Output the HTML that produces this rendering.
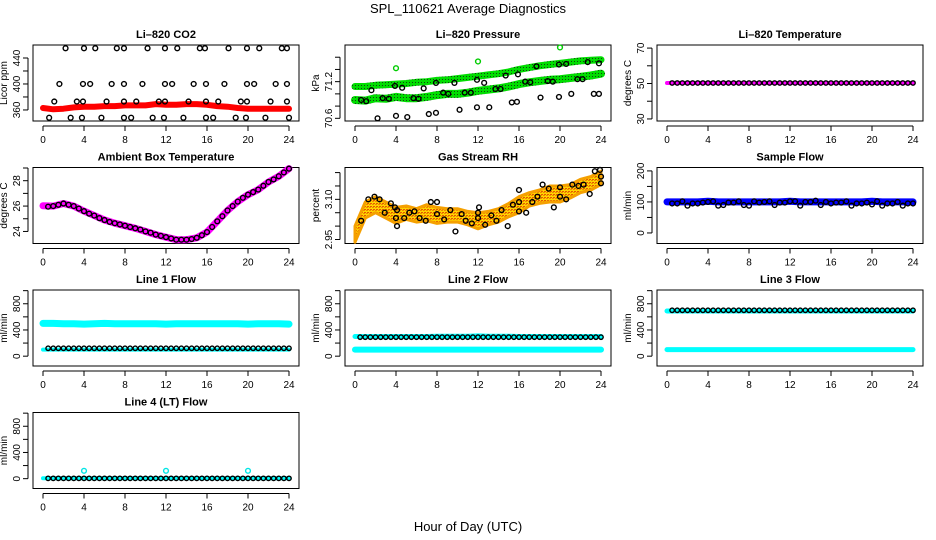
<!DOCTYPE html>
<html><head><meta charset="utf-8">
<style>
html,body{margin:0;padding:0;background:#fff;}
svg{display:block;font-family:"Liberation Sans",Arial,sans-serif;}
</style></head>
<body>
<svg id="chart" width="936" height="540" viewBox="0 0 936 540" xmlns="http://www.w3.org/2000/svg">
<defs>
<pattern id="greenPat" width="3" height="3" patternUnits="userSpaceOnUse"><rect width="3" height="3" fill="#00dd00"/><rect x="1" y="1" width="1" height="1" fill="#114411"/></pattern>
<pattern id="rhPat" width="3" height="3" patternUnits="userSpaceOnUse"><rect width="3" height="3" fill="#ffd400"/><rect x="0" y="0" width="2" height="1" fill="#f08a00"/><rect x="1" y="2" width="2" height="1" fill="#e55a00"/></pattern>
</defs>
<text x="468" y="13" text-anchor="middle" font-size="13">SPL_110621  Average Diagnostics</text>
<text x="468" y="531" text-anchor="middle" font-size="13">Hour of Day (UTC)</text>
</svg>
<script>
// ---- shared data ----
const xTicks = [0,4,8,12,16,20,24];
const hourly = [0,1,2,3,4,5,6,7,8,9,10,11,12,13,14,15,16,17,18,19,20,21,22,23,24];
const halfHours = [0.5,1,1.5,2,2.5,3,3.5,4,4.5,5,5.5,6,6.5,7,7.5,8,8.5,9,9.5,10,10.5,11,11.5,12,12.5,13,13.5,14,14.5,15,15.5,16,16.5,17,17.5,18,18.5,19,19.5,20,20.5,21,21.5,22,22.5,23,23.5,24];

// CO2
const co2Red = [363,361,362,364,365,365,366,366,367,367,367,369,368,368,369,369,368,366,365,363,362,362,362,362,362];
const co2BlackH = [2.2,4.0,5.1,7.2,7.9,10.2,11.9,13.1,15.3,15.8,18.1,19.9,21.1,23.3,23.8, 1.6,3.9,4.6,6.7,7.9,9.7,11.9,12.6,14.7,15.9,17.7,19.9,20.6,22.7,23.8, 1.1,3.3,3.9,6.2,7.9,9.1,11.3,11.9,14.2,15.9,17.1,19.3,19.9,22.2,23.8, 0.6,2.7,3.8,5.7,7.9,8.6,10.7,11.8,13.7,15.9,16.6,18.8,19.8,21.7,24.0];
const co2BlackV = [455,455,455,455,455,455,455,455,455,455,455,455,455,455,455, 400,400,400,400,400,400,400,400,400,400,400,400,400,400,400, 373,373,373,373,373,373,373,373,373,373,373,373,373,373,373, 348,348,348,348,348,348,348,348,348,348,348,348,348,348,348];
// Pressure
const presUpper = [71.12,71.12,71.14,71.15,71.16,71.17,71.19,71.2,71.22,71.23,71.25,71.27,71.29,71.31,71.33,71.36,71.4,71.43,71.46,71.48,71.5,71.52,71.54,71.55,71.56];
const presLower = [70.9,70.89,70.93,70.92,70.95,70.93,70.93,70.95,70.98,71.0,71.0,71.02,71.05,71.07,71.09,71.12,71.16,71.19,71.21,71.23,71.24,71.26,71.28,71.3,71.33];
const presGreenOutH = [4,12,20];
const presGreenOutV = [71.42,71.53,71.76];
const presBlackH = [2.2,4.0,5.1,7.2,7.9,10.2,11.9,13.1,15.3,15.8,18.1,19.9,21.1,23.3,23.8, 0.6,1.1,1.6,2.7,3.3,3.9,4.6,5.7,6.2,6.7,7.9,8.6,9.1,9.7,10.7,11.3,11.9,12.6,13.7,14.2,14.7,15.9,16.6,17.1,17.7,18.8,19.3,19.9,20.6,21.7,22.2,22.7,23.8];
const presBlackV = [70.6,70.64,70.62,70.67,70.69,70.74,70.78,70.78,70.86,70.87,70.94,70.95,71.0,71.0,71.0, 70.9,70.88,71.06,70.93,70.92,71.13,71.1,70.93,70.92,71.09,71.18,71.02,71.0,71.18,71.02,71.02,71.23,71.18,71.08,71.08,71.3,71.32,71.2,71.19,71.45,71.21,71.2,71.48,71.49,71.24,71.24,71.52,71.5];
// Li-820 temperature
const tempMag = [50.3,50.3,50.3,50.3,50.3,50.3,50.3,50.3,50.3,50.3,50.3,50.3,50.3,50.3,50.3,50.3,50.3,50.3,50.3,50.3,50.3,50.3,50.3,50.3,50.3];
const tempBlack = [50.3,50.3,50.3,50.3,50.3,50.3,50.3,50.3,50.3,50.3,50.3,50.3,50.3,50.3,50.3,50.3,50.3,50.3,50.3,50.3,50.3,50.3,50.3,50.3,50.3,50.3,50.3,50.3,50.3,50.3,50.3,50.3,50.3,50.3,50.3,50.3,50.3,50.3,50.3,50.3,50.3,50.3,50.3,50.3,50.3,50.3,50.3,50.3];
// Ambient box temperature
const ambMag = [26.03,26.0,26.2,26.0,25.6,25.25,24.9,24.65,24.45,24.25,24.0,23.75,23.55,23.35,23.35,23.5,23.95,24.8,25.65,26.35,26.9,27.3,27.9,28.35,28.95];
const ambBlack = [25.95,26.0,26.1,26.2,26.1,26.0,25.8,25.6,25.4,25.25,25.05,24.9,24.75,24.65,24.55,24.45,24.35,24.25,24.15,24.0,23.9,23.75,23.65,23.55,23.45,23.35,23.35,23.35,23.4,23.5,23.7,23.95,24.35,24.8,25.2,25.65,26.0,26.35,26.65,26.9,27.1,27.3,27.6,27.9,28.1,28.35,28.65,28.95];
// Gas stream RH
const rhCenter = [2.97,3.06,3.08,3.06,3.04,3.05,3.04,3.05,3.04,3.04,3.04,3.03,3.02,3.03,3.04,3.06,3.08,3.10,3.11,3.12,3.12,3.13,3.15,3.16,3.18];
const rhHalfWidth = [0.03,0.03,0.03,0.03,0.03,0.025,0.025,0.03,0.03,0.025,0.025,0.025,0.03,0.025,0.025,0.025,0.03,0.025,0.025,0.03,0.03,0.025,0.025,0.025,0.025];
const rhBlackH = [0.6,1.3,1.9,2.4,2.9,3.5,3.9,4.1,4.0,4.1,4.8,5.3,5.8,6.3,6.9,7.4,8.0,8.0,8.7,9.3,9.8,10.4,10.8,11.4,12.0,12.1,12.0,12.7,13.3,13.8,14.3,14.9,15.4,16.0,16.0,16.0,16.7,17.3,17.8,18.3,18.9,19.4,20.0,20.0,20.6,21.2,21.8,22.3,22.9,23.4,23.9,24.0,24.0];
const rhBlackV = [3.02,3.10,3.11,3.10,3.05,3.085,3.07,3.06,3.03,3.0,3.03,3.05,3.055,3.03,3.02,3.09,3.09,3.045,3.025,3.06,2.98,3.045,3.02,3.01,3.05,3.07,3.03,3.005,3.04,3.02,3.06,3.0,3.08,3.09,3.135,3.055,3.05,3.09,3.11,3.155,3.14,3.07,3.145,3.11,3.10,3.155,3.15,3.155,3.12,3.205,3.21,3.185,3.16];
// Sample flow
const sampleBlue = [100,100,100,100,102,100,100,100,100,100,100,100,102,100,100,100,100,100,100,100,102,100,100,100,100];
const sampleBlack = [95,95,102,88,95,95,98,100,102,88,90,98,98,102,90,88,102,98,100,102,90,98,98,102,102,88,100,100,104,90,100,95,98,98,102,88,95,95,98,92,102,88,95,95,100,88,95,95];
// Line flows
const l1CyanHigh = [500,500,495,495,490,495,500,495,495,495,495,495,490,495,495,495,495,495,495,495,490,495,495,495,490];
const l1CyanLow = [100,100,100,100,100,100,100,100,100,100,100,100,100,100,100,100,100,100,100,100,100,100,100,100,100];
const l1Black = [120,120,120,120,120,120,120,120,120,120,120,120,120,120,120,120,120,120,120,120,120,120,120,120,120,120,120,120,120,120,120,120,120,120,120,120,120,120,120,120,120,120,120,120,120,120,120,120];
const l2CyanHigh = [300,300,300,300,300,300,300,300,305,305,305,305,310,305,305,305,300,300,300,300,300,300,300,300,300];
const l2CyanLow = [100,100,100,100,100,100,100,100,100,100,100,100,100,100,100,100,100,100,100,100,100,100,100,100,100];
const l2Black = [290,290,290,290,290,290,290,290,290,290,290,290,290,290,290,290,290,290,290,290,290,290,290,290,290,290,290,290,290,290,290,290,290,290,290,290,290,290,290,290,290,290,290,290,290,290,290,290];
const l3CyanHigh = [690,690,690,690,690,690,690,690,690,690,690,690,690,690,690,690,690,690,690,690,690,690,690,690,690];
const l3CyanLow = [100,100,100,100,100,100,100,100,100,100,100,100,100,100,100,100,100,100,100,100,100,100,100,100,100];
const l3Black = [700,700,700,700,700,700,700,700,700,700,700,700,700,700,700,700,700,700,700,700,700,700,700,700,700,700,700,700,700,700,700,700,700,700,700,700,700,700,700,700,700,700,700,700,700,700,700,700];
const l4Cyan = [5,5,5,5,5,5,5,5,5,5,5,5,5,5,5,5,5,5,5,5,5,5,5,5,5];
const l4CyanSpikeH = [4,12,20];
const l4CyanSpikeV = [120,120,120];
const l4Black = [5,5,5,5,5,5,5,5,5,5,5,5,5,5,5,5,5,5,5,5,5,5,5,5,5,5,5,5,5,5,5,5,5,5,5,5,5,5,5,5,5,5,5,5,5,5,5,5];

const flowTicks = [0,200,400,600,800,1000];
const flowLabels = [0,400,800];

const NS = 'http://www.w3.org/2000/svg';
const svg = document.getElementById('chart');
const colX = [33,345,657], rowY = [45,167.5,290,412.5], W = 266, H = 76;

function mk(tag, attrs, parent){
  const e = document.createElementNS(NS, tag);
  for (const k in attrs) e.setAttribute(k, attrs[k]);
  (parent||svg).appendChild(e);
  return e;
}

function panel(opts){
  const x0 = colX[opts.col], y0 = rowY[opts.row];
  const g = mk('g', {});
  
  
  const sx = h => x0 + 10 + h * 246 / 24;
  const sy = v => y0 + H - (v - opts.ymin) / (opts.ymax - opts.ymin) * H;
  const t = mk('text', {x: x0 + W/2, y: y0 - 7, 'text-anchor':'middle', 'font-size':'11', 'font-weight':'bold'}, g);
  t.textContent = opts.title;
  
  
  const box = mk('rect', {x:x0, y:y0, width:W, height:H, fill:'none', stroke:'#000', 'stroke-width':'1'}, g);
  
  
  // x axis
  const xa = mk('g', {stroke:'#000','stroke-width':'1'}, g);
  
  
  mk('line', {x1:sx(xTicks[0]), x2:sx(xTicks[xTicks.length-1]), y1:y0+H+5, y2:y0+H+5}, xa);
  xTicks.forEach(v => {
    mk('line', {x1:sx(v), x2:sx(v), y1:y0+H+5, y2:y0+H+10}, xa);
    const l = mk('text', {x:sx(v), y:y0+H+22, 'text-anchor':'middle','font-size':'10', stroke:'none'}, xa);
    l.textContent = v;
    
    
  });
  // y axis
  const ya = mk('g', {stroke:'#000','stroke-width':'1'}, g);
  
  
  const yt = opts.yticks;
  mk('line', {x1:x0-5, x2:x0-5, y1:sy(yt[0]), y2:sy(yt[yt.length-1])}, ya);
  yt.forEach(v => mk('line', {x1:x0-5, x2:x0-10, y1:sy(v), y2:sy(v)}, ya));
  opts.ylabels.forEach((v, i) => {
    const l = mk('text', {x:0, y:0, transform:`translate(${x0-13},${sy(v)}) rotate(-90)`, 'text-anchor':'middle','font-size':'10', stroke:'none'}, ya);
    l.textContent = opts.ylabelText ? opts.ylabelText[i] : v;
    
    
  });
  const yl = mk('text', {x:0, y:0, transform:`translate(${x0-26},${y0+H/2}) rotate(-90)`, 'text-anchor':'middle','font-size':'10'}, g);
  yl.textContent = opts.ylab;
  
  
  const data = mk('g', {}, g);
  
  
  return {sx, sy, g: data};
}

function band(p, xs, vs, color, width, name){
  const pts = xs.map((h,i) => p.sx(h).toFixed(1) + ',' + p.sy(vs[i]).toFixed(1)).join(' ');
  const pl = mk('polyline', {points:pts, fill:'none', stroke:color, 'stroke-width':width, 'stroke-linejoin':'round','stroke-linecap':'round'}, p.g);
  
  
}
function circles(p, xs, vs, color, name, r){
  xs.forEach((h,i) => {
    const c = mk('circle', {cx:p.sx(h), cy:p.sy(vs[i]), r:r||2.4, fill:'none', stroke:color, 'stroke-width':'1.4'}, p.g);
    
    
  });
}

// CO2
let p = panel({name:'co2-panel', col:0,row:0,title:'Li\u2013820 CO2', ylab:'Licor ppm', ymin:343, ymax:460, yticks:[360,380,400,420,440], ylabels:[360,400,440]});
band(p, hourly, co2Red, '#ff0000', 6, 'co2-red-series');
circles(p, co2BlackH, co2BlackV, '#000', 'co2-point');

// Pressure
p = panel({name:'pressure-panel', col:1,row:0,title:'Li\u2013820 Pressure', ylab:'kPa', ymin:70.556, ymax:71.8, yticks:[70.6,70.8,71.0,71.2,71.4,71.6], ylabels:[70.6,71.2], ylabelText:['70.6','71.2']});
band(p, hourly, presUpper, 'url(#greenPat)', 7, 'pressure-upper-band');
band(p, hourly, presLower, 'url(#greenPat)', 8, 'pressure-lower-band');
circles(p, presGreenOutH, presGreenOutV, '#00cc00', 'pressure-outlier');
circles(p, presBlackH, presBlackV, '#000', 'pressure-point');

// Li-820 temp
p = panel({name:'li820-temperature-panel', col:2,row:0,title:'Li\u2013820 Temperature', ylab:'degrees C', ymin:28.84, ymax:71.74, yticks:[30,40,50,60,70], ylabels:[30,50,70]});
band(p, hourly, tempMag, '#ff00ff', 4, 'li820-temp-magenta');
circles(p, halfHours, tempBlack, '#000', 'li820-temp-point', 2.2);

// Ambient
p = panel({name:'ambient-temperature-panel', col:0,row:1,title:'Ambient Box Temperature', ylab:'degrees C', ymin:23.05, ymax:29.04, yticks:[24,25,26,27,28,29], ylabels:[24,26,28]});
band(p, hourly, ambMag, '#ff00ff', 7, 'ambient-magenta');
circles(p, halfHours, ambBlack, '#000', 'ambient-point');

// RH
p = panel({name:'gas-rh-panel', col:1,row:1,title:'Gas Stream RH', ylab:'percent', ymin:2.935, ymax:3.219, yticks:[2.95,3.0,3.05,3.1,3.15,3.2], ylabels:[2.95,3.1], ylabelText:['2.95','3.10']});
(function(){
  const top = hourly.map((h,i) => p.sx(h).toFixed(1)+','+p.sy(rhCenter[i]+rhHalfWidth[i]).toFixed(1));
  const bot = hourly.map((h,i) => p.sx(h).toFixed(1)+','+p.sy(rhCenter[i]-rhHalfWidth[i]).toFixed(1)).reverse();
  const pg = mk('polygon', {points: top.concat(bot).join(' '), fill:'url(#rhPat)', stroke:'#f5a000','stroke-width':'3','stroke-linejoin':'round'}, p.g);
  
  
})();
circles(p, rhBlackH, rhBlackV, '#000', 'rh-point');

// Sample flow
p = panel({name:'sample-flow-panel', col:2,row:1,title:'Sample Flow', ylab:'ml/min', ymin:-34, ymax:211, yticks:[0,50,100,150,200], ylabels:[0,100,200]});
band(p, hourly, sampleBlue, '#0000ff', 7, 'sample-blue-series');
circles(p, halfHours, sampleBlack, '#000', 'sample-point');

// Line 1
p = panel({name:'line1-flow-panel', col:0,row:2,title:'Line 1 Flow', ylab:'ml/min', ymin:-150, ymax:1010, yticks:flowTicks, ylabels:flowLabels});
band(p, hourly, l1CyanHigh, '#00ffff', 7, 'line1-cyan-high');
band(p, hourly, l1CyanLow, '#00ffff', 4, 'line1-cyan-low');
circles(p, halfHours, l1Black, '#000', 'line1-point', 2.2);

// Line 2
p = panel({name:'line2-flow-panel', col:1,row:2,title:'Line 2 Flow', ylab:'ml/min', ymin:-150, ymax:1010, yticks:flowTicks, ylabels:flowLabels});
band(p, hourly, l2CyanHigh, '#00ffff', 5, 'line2-cyan-high');
band(p, hourly, l2CyanLow, '#00ffff', 6, 'line2-cyan-low');
circles(p, halfHours, l2Black, '#000', 'line2-point', 2.2);

// Line 3
p = panel({name:'line3-flow-panel', col:2,row:2,title:'Line 3 Flow', ylab:'ml/min', ymin:-150, ymax:1010, yticks:flowTicks, ylabels:flowLabels});
band(p, hourly, l3CyanHigh, '#00ffff', 5, 'line3-cyan-high');
band(p, hourly, l3CyanLow, '#00ffff', 5, 'line3-cyan-low');
circles(p, halfHours, l3Black, '#000', 'line3-point', 2.2);

// Line 4
p = panel({name:'line4-flow-panel', col:0,row:3,title:'Line 4 (LT) Flow', ylab:'ml/min', ymin:-150, ymax:1010, yticks:flowTicks, ylabels:flowLabels});
band(p, hourly, l4Cyan, '#00ffff', 4, 'line4-cyan');
circles(p, l4CyanSpikeH, l4CyanSpikeV, '#00e5e5', 'line4-cyan-spike');
circles(p, halfHours, l4Black, '#000', 'line4-point', 2.2);
</script>
</body></html>
